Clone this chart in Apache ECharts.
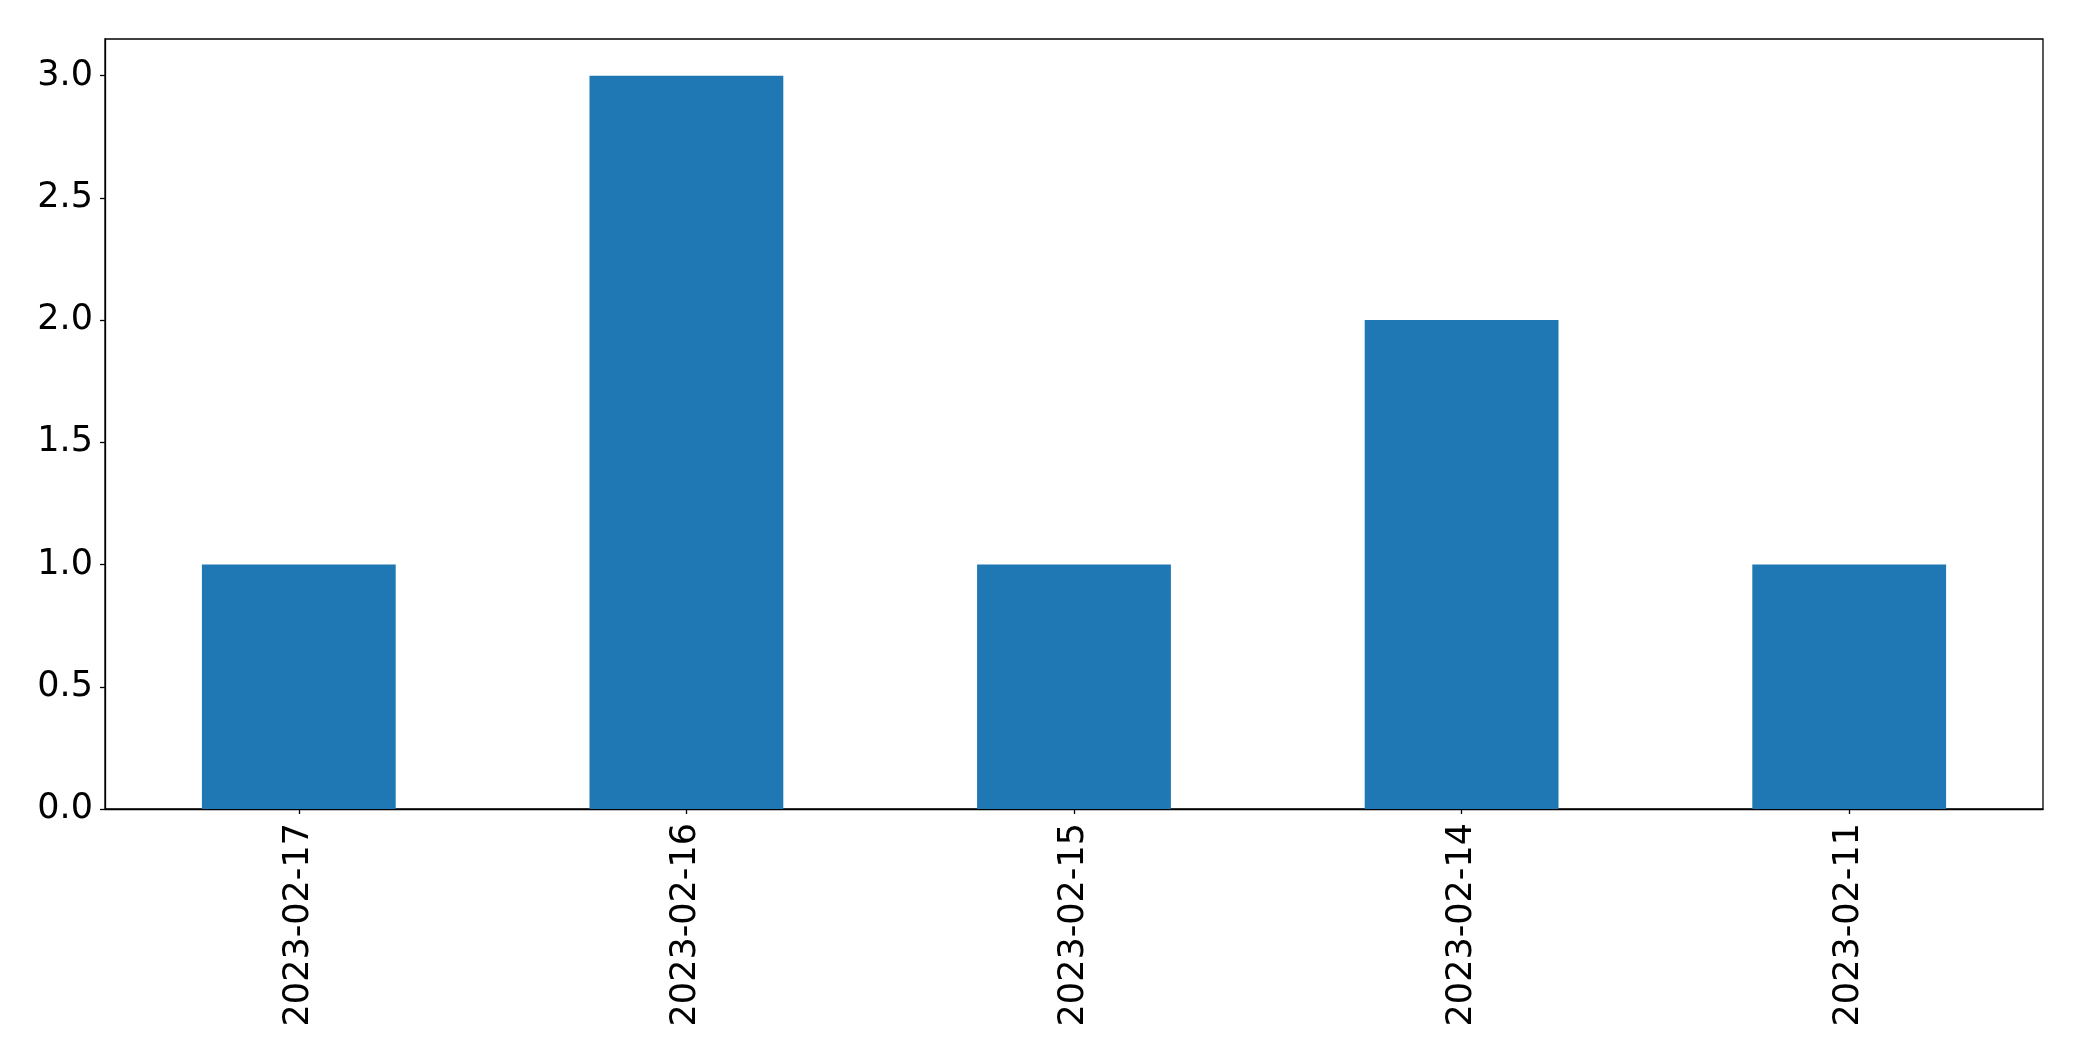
<!DOCTYPE html>
<html>
<head>
<meta charset="utf-8">
<script src="https://cdn.jsdelivr.net/npm/echarts@6/dist/echarts.min.js"></script>
<style>html,body{margin:0;padding:0;background:#fff;}#c{width:2082px;height:1061px;}</style>
</head>
<body>
<div id="c"></div>
<script>
const categories = ["2023-02-17", "2023-02-16", "2023-02-15", "2023-02-14", "2023-02-11"];
const values = [1, 3, 1, 2, 1];
const yTicks = [0, 0.5, 1.0, 1.5, 2.0, 2.5, 3.0];

const chart = echarts.init(document.getElementById('c'), null, {renderer: 'canvas'});
const font = 'DejaVu Sans';
chart.setOption({
  animation: false,
  backgroundColor: '#ffffff',
  grid: {left: 105, top: 39, right: 39, bottom: 252, show: true, borderColor: '#000', borderWidth: 1.3, backgroundColor: 'transparent'},
  xAxis: {
    type: 'category',
    data: categories,
    boundaryGap: true,
    axisLine: {show: true, lineStyle: {color: '#000', width: 1.3}},
    axisTick: {show: true, alignWithLabel: true, length: 5, lineStyle: {color: '#000', width: 1.3}},
    axisLabel: {rotate: 90, fontSize: 35, fontFamily: font, color: '#000', margin: 14}
  },
  yAxis: {
    type: 'value',
    min: 0,
    max: 3.15,
    interval: 0.5,
    splitLine: {show: false},
    axisLine: {show: true, lineStyle: {color: '#000', width: 1.3}},
    axisTick: {show: true, length: 5, lineStyle: {color: '#000', width: 1.3}},
    axisLabel: {
      fontSize: 35, fontFamily: font, color: '#000', margin: 12,
      padding: [3, 0, 0, 0],
      showMaxLabel: false,
      formatter: function (v) { return yTicks.indexOf(v) >= 0 ? v.toFixed(1) : ''; }
    }
  },
  series: [{
    type: 'bar',
    data: values,
    barWidth: '50%',
    itemStyle: {color: '#1f77b4'}
  }]
});
</script>
</body>
</html>
